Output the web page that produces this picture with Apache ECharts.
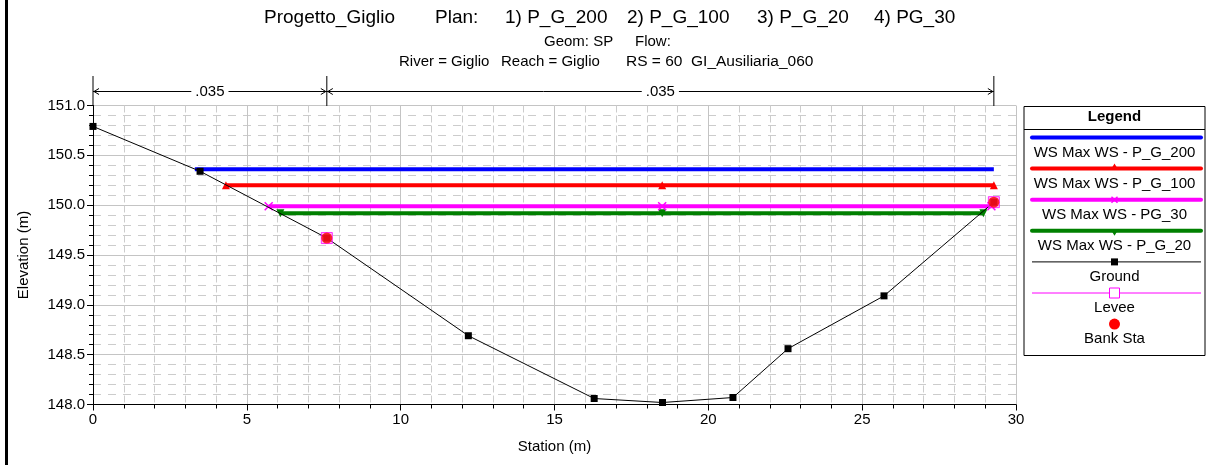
<!DOCTYPE html>
<html><head><meta charset="utf-8">
<script src="https://cdn.jsdelivr.net/npm/echarts@6/dist/echarts.min.js"></script>
<style>html,body{margin:0;padding:0;background:#fff;}#c{width:1213px;height:465px;}</style>
</head><body><div id="c"></div>
<script>
// ---- data ----
const groundSta  = [0, 3.48, 7.6, 12.2, 16.29, 18.51, 20.8, 22.59, 25.71, 29.28];
const groundElev = [150.79, 150.34, 149.67, 148.69, 148.06, 148.02, 148.07, 148.56, 149.09, 150.03];
const wsNames = ['WS Max WS - P_G_200', 'WS Max WS - P_G_100', 'WS Max WS - PG_30', 'WS Max WS - P_G_20'];
const wsElev  = [150.36, 150.20, 149.99, 149.92];
const wsLeft  = [3.31, 4.32, 5.71, 6.09];
const wsMid   = [18.5, 18.5, 18.5, 18.5];
const wsRight = [29.28, 29.28, 29.2, 28.94];
const bankSta  = [7.6, 29.28];
const bankElev = [149.67, 150.03];
const nBreaks = [0, 7.6, 29.28];
const nValues = ['.035', '.035'];
const xTicks = [0, 5, 10, 15, 20, 25, 30];
const yTicks = [148.0, 148.5, 149.0, 149.5, 150.0, 150.5, 151.0];

const wsColors = ['#0000ff', '#ff0000', '#ff00ff', '#008000'];
const xPath = 'path://M0,0L10,10M10,0L0,10';
const wsSymbols = ['none', 'triangle', xPath, 'triangle'];
const wsRot = [0, 0, 0, 180];

const FONT = 'Arial, "Liberation Sans", sans-serif';
const FS = 15;
const chart = echarts.init(document.getElementById('c'), null, {renderer: 'canvas'});

const series = wsNames.map((n, i) => ({
  name: n, type: 'line', z: 3 + (4 - i),
  data: [[wsLeft[i], wsElev[i]], [wsMid[i], wsElev[i]], [wsRight[i], wsElev[i]]],
  symbol: wsSymbols[i], symbolSize: 8, symbolRotate: wsRot[i], showAllSymbol: true,
  lineStyle: {color: wsColors[i], width: 4},
  itemStyle: {color: wsColors[i], borderColor: wsColors[i], borderWidth: i === 2 ? 1.5 : 0},
  animation: false, silent: true
}));
series.push({
  name: 'Ground', type: 'line', z: 10,
  data: groundSta.map((s, i) => [s, groundElev[i]]),
  symbol: 'rect', symbolSize: 7, showAllSymbol: true,
  lineStyle: {color: '#000', width: 1}, itemStyle: {color: '#000'},
  animation: false, silent: true
});
series.push({
  name: 'Levee', type: 'scatter', z: 11,
  data: bankSta.map((s, i) => [s, bankElev[i]]),
  symbol: 'rect', symbolSize: 11,
  itemStyle: {color: 'rgba(255,120,255,0.6)', borderColor: '#ff00ff', borderWidth: 1},
  animation: false, silent: true
});
series.push({
  name: 'Bank Sta', type: 'scatter', z: 12,
  data: bankSta.map((s, i) => [s, bankElev[i]]),
  symbol: 'circle', symbolSize: 11,
  itemStyle: {color: '#ff0000'},
  animation: false, silent: true
});

chart.setOption({
  animation: false,
  backgroundColor: '#fff',
  grid: {left: 93, top: 105.5, right: 197, bottom: 60.5, containLabel: false},
  xAxis: {
    type: 'value', min: xTicks[0], max: xTicks[xTicks.length - 1], interval: 5,
    name: 'Station (m)', nameLocation: 'middle', nameGap: 35,
    nameTextStyle: {fontFamily: FONT, fontSize: FS, color: '#000'},
    axisLine: {show: true, onZero: false, lineStyle: {color: '#000', width: 1}},
    axisTick: {show: true, length: 6, lineStyle: {color: '#000'}},
    minorTick: {show: true, splitNumber: 5, length: 4, lineStyle: {color: '#000'}},
    axisLabel: {fontFamily: FONT, fontSize: FS, color: '#000', margin: 8},
    splitLine: {show: true, lineStyle: {color: '#c4c4c4', width: 1}},
    minorSplitLine: {show: true, lineStyle: {color: '#cccccc', width: 1, type: [7, 3]}}
  },
  yAxis: {
    type: 'value', min: yTicks[0], max: yTicks[yTicks.length - 1], interval: 0.5,
    name: 'Elevation (m)', nameLocation: 'middle', nameGap: 62,
    nameTextStyle: {fontFamily: FONT, fontSize: FS, color: '#000'},
    axisLine: {show: true, onZero: false, lineStyle: {color: '#000', width: 1}},
    axisTick: {show: true, length: 6, lineStyle: {color: '#000'}},
    minorTick: {show: true, splitNumber: 5, length: 4, lineStyle: {color: '#000'}},
    axisLabel: {fontFamily: FONT, fontSize: FS, color: '#000', margin: 8, formatter: v => v.toFixed(1)},
    splitLine: {show: true, lineStyle: {color: '#c4c4c4', width: 1}},
    minorSplitLine: {show: true, lineStyle: {color: '#cccccc', width: 1, type: [8, 7]}}
  },
  series: series
});

// ---- overlay graphics: titles, roughness bar, legend ----
const g = [];
function txt(x, y, s, size, opts) {
  g.push({type: 'text', x: x, y: y, silent: true,
    style: Object.assign({text: s, fontFamily: FONT, fontSize: size, fill: '#000', textVerticalAlign: 'middle', textAlign: 'left'}, opts || {})});
}
// left frame bar
g.push({type: 'rect', shape: {x: 5, y: 0, width: 3, height: 465}, style: {fill: '#000'}, silent: true});
// titles
txt(264, 18, 'Progetto_Giglio', 19);
txt(435, 18, 'Plan:', 19);
txt(505, 18, '1) P_G_200', 19);
txt(627, 18, '2) P_G_100', 19);
txt(757, 18, '3) P_G_20', 19);
txt(874, 18, '4) PG_30', 19);
txt(544, 42, 'Geom: SP', 15);
txt(635, 42, 'Flow:', 15);
txt(399, 62, 'River = Giglio', 15);
txt(501, 62, 'Reach = Giglio', 15);
txt(626, 62, 'RS = 60  GI_Ausiliaria_060', 15.5);

// Manning's n bar
const nY = 91.5;
const nPx = nBreaks.map(s => chart.convertToPixel({xAxisIndex: 0}, s));
g.push({type: 'line', shape: {x1: nPx[0], y1: nY, x2: nPx[nPx.length - 1], y2: nY}, style: {stroke: '#000', lineWidth: 1}, silent: true});
nPx.forEach(p => g.push({type: 'line', shape: {x1: p, y1: 76, x2: p, y2: 106}, style: {stroke: '#000', lineWidth: 1}, silent: true}));
for (let i = 0; i < nValues.length; i++) {
  const a = nPx[i], b = nPx[i + 1];
  g.push({type: 'polyline', shape: {points: [[a + 6, nY - 3], [a + 1, nY], [a + 6, nY + 3]]}, style: {stroke: '#000', fill: null, lineWidth: 1}, silent: true});
  g.push({type: 'polyline', shape: {points: [[b - 6, nY - 3], [b - 1, nY], [b - 6, nY + 3]]}, style: {stroke: '#000', fill: null, lineWidth: 1}, silent: true});
  g.push({type: 'text', x: (a + b) / 2, y: nY, silent: true, z: 5,
    style: {text: nValues[i], fontFamily: FONT, fontSize: FS, fill: '#000', textAlign: 'center', textVerticalAlign: 'middle', backgroundColor: '#fff', padding: [0, 4]}});
}

// legend box
const LX = 1024, LY = 106.5, LW = 181, LH = 249;
const cx = LX + LW / 2;
g.push({type: 'rect', shape: {x: LX, y: LY, width: LW, height: LH}, style: {fill: '#fff', stroke: '#000', lineWidth: 1}, silent: true});
g.push({type: 'line', shape: {x1: LX, y1: 129.5, x2: LX + LW, y2: 129.5}, style: {stroke: '#000', lineWidth: 1}, silent: true});
txt(cx, 117, 'Legend', 15, {textAlign: 'center', fontWeight: 'bold'});
const legNames = wsNames.concat(['Ground', 'Levee', 'Bank Sta']);
for (let i = 0; i < legNames.length; i++) {
  const ly = 137.5 + i * 31.1;
  if (i < 4) {
    g.push({type: 'line', shape: {x1: LX + 8, y1: ly, x2: LX + LW - 4, y2: ly}, style: {stroke: wsColors[i], lineWidth: 4, lineCap: 'round'}, silent: true});
    if (i === 1) g.push({type: 'polygon', shape: {points: [[cx, ly - 5], [cx - 3, ly], [cx + 3, ly]]}, style: {fill: wsColors[i]}, silent: true});
    if (i === 2) {
      g.push({type: 'polyline', shape: {points: [[cx - 3, ly - 3], [cx + 3, ly + 3]]}, style: {stroke: wsColors[i], lineWidth: 1.5}, silent: true});
      g.push({type: 'polyline', shape: {points: [[cx + 3, ly - 3], [cx - 3, ly + 3]]}, style: {stroke: wsColors[i], lineWidth: 1.5}, silent: true});
    }
    if (i === 3) g.push({type: 'polygon', shape: {points: [[cx, ly + 5], [cx - 3, ly], [cx + 3, ly]]}, style: {fill: wsColors[i]}, silent: true});
  } else if (i === 4) {
    g.push({type: 'line', shape: {x1: LX + 8, y1: ly, x2: LX + LW - 4, y2: ly}, style: {stroke: '#000', lineWidth: 1}, silent: true});
    g.push({type: 'rect', shape: {x: cx - 3.5, y: ly - 3.5, width: 7, height: 7}, style: {fill: '#000'}, silent: true});
  } else if (i === 5) {
    g.push({type: 'line', shape: {x1: LX + 8, y1: ly, x2: LX + LW - 4, y2: ly}, style: {stroke: '#ff00ff', lineWidth: 1}, silent: true});
    g.push({type: 'rect', shape: {x: cx - 5, y: ly - 5, width: 10, height: 10}, style: {fill: '#fff', stroke: '#ff00ff', lineWidth: 1}, silent: true});
  } else {
    g.push({type: 'circle', shape: {cx: cx, cy: ly, r: 5.5}, style: {fill: '#ff0000'}, silent: true});
  }
  txt(cx, ly + 15, legNames[i], 15, {textAlign: 'center'});
}
chart.setOption({graphic: g});
</script></body></html>
